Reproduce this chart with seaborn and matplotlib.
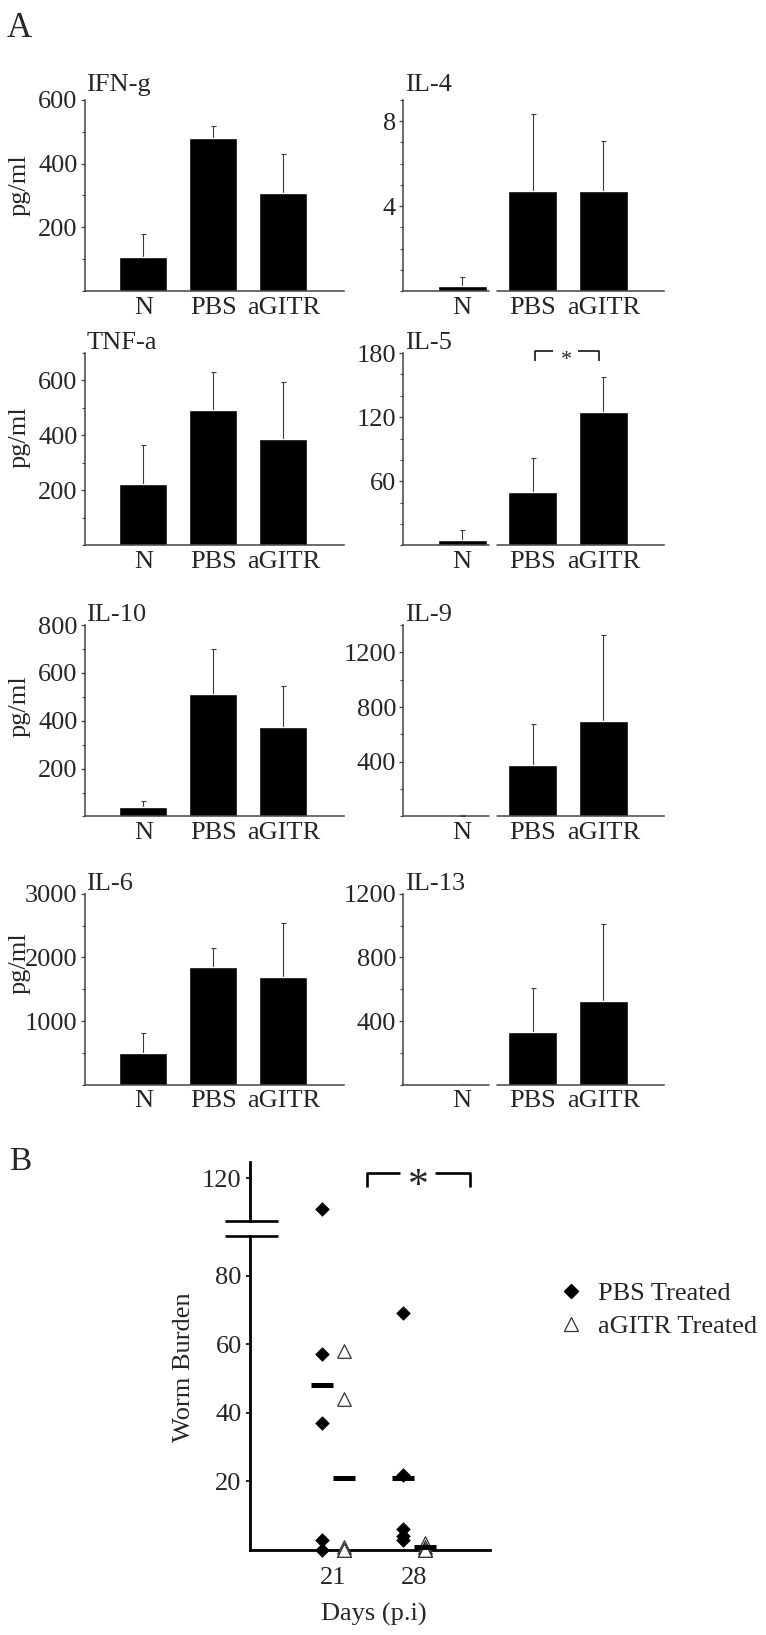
import numpy as np
import pandas as pd
import matplotlib
matplotlib.use('Agg')
import matplotlib.pyplot as plt
from matplotlib.lines import Line2D
from matplotlib.ticker import MultipleLocator
import seaborn as sns

# ---- panel A: cytokines ----
groups = ['N', 'PBS', 'aGITR']
cytokines = ['IFN-g', 'IL-4', 'TNF-a', 'IL-5', 'IL-10', 'IL-9', 'IL-6', 'IL-13']

ifng_mean = [106, 480, 307]
ifng_err = [72, 39, 122]
il4_mean = [0.25, 4.72, 4.72]
il4_err = [0.41, 3.63, 2.34]
tnfa_mean = [223, 492, 388]
tnfa_err = [141, 140, 208]
il5_mean = [5.4, 50.4, 124.6]
il5_err = [8.8, 31.6, 33.2]
il10_mean = [38, 512, 373]
il10_err = [27, 187, 172]
il9_mean = [5, 378, 698]
il9_err = [6, 301, 630]
il6_mean = [501, 1846, 1688]
il6_err = [310, 299, 851]
il13_mean = [3, 333, 526]
il13_err = [2, 278, 485]

y_top = [600, 9, 700, 180, 800, 1400, 3000, 1200]
y_labeled = [[200, 400, 600], [4, 8], [200, 400, 600], [60, 120, 180],
             [200, 400, 600, 800], [400, 800, 1200], [1000, 2000, 3000], [400, 800, 1200]]
y_minor = [100, 1, 100, 20, 100, 200, 500, 200]

# ---- panel B: worm burden ----
days = [21, 28]
pbs_day21 = [111, 57, 37, 3, 0]
pbs_day28 = [69, 22, 6, 4, 3]
agitr_day21 = [58, 44, 1, 0, 0]
agitr_day28 = [2, 1, 0, 0, 0]
pbs_group_mean = [48, 21]
agitr_group_mean = [21, 1]

means = [ifng_mean, il4_mean, tnfa_mean, il5_mean, il10_mean, il9_mean, il6_mean, il13_mean]
errs = [ifng_err, il4_err, tnfa_err, il5_err, il10_err, il9_err, il6_err, il13_err]

sns.set_style('ticks')
plt.rcParams['font.family'] = ['Liberation Serif', 'DejaVu Serif']
FS = 19

W, H = 766, 1635
fig = plt.figure(figsize=(W / 100, H / 100), dpi=100)


def rect(l, t, r, b):
    return [l / W, 1 - b / H, (r - l) / W, (b - t) / H]


def fig_line(xs, ys, lw):
    fig.add_artist(Line2D([x / W for x in xs], [1 - y / H for y in ys],
                          transform=fig.transFigure, color='black', lw=lw,
                          solid_capstyle='butt'))


cols = [(84.5, 343.5), (403, 664)]
rows = [(100, 291), (353, 545.5), (625, 816.5), (894, 1084.5)]
ylabel_y = [185, 437, 706, 963]

for i, name in enumerate(cytokines):
    r, c = divmod(i, 2)
    l, rr = cols[c]
    t, b = rows[r]
    ax = fig.add_axes(rect(l, t, rr, b))
    sns.barplot(x=groups, y=means[i], color='black', saturation=1, width=0.69,
                errorbar=None, ax=ax, zorder=2)
    # upper error only; the lower cap stays hidden behind the bar
    ax.errorbar(range(3), means[i], yerr=[np.zeros(3), errs[i]], fmt='none',
                ecolor='#3a3a3a', elinewidth=0.8, capsize=1.8, capthick=0.8, zorder=1)
    ax.set_xlim(-0.84, 2.86)
    ax.set_ylim(0, y_top[i])
    ax.set_yticks(y_labeled[i])
    ax.yaxis.set_minor_locator(MultipleLocator(y_minor[i]))
    ax.set_xlabel('')
    ax.set_ylabel('')
    sns.despine(ax=ax)
    for s in ['left', 'bottom']:
        ax.spines[s].set_color('#444444')
        ax.spines[s].set_linewidth(1.1)
    ax.tick_params(axis='y', which='major', length=3, width=0.9, pad=2,
                   labelsize=FS, color='#444444')
    ax.tick_params(axis='y', which='minor', length=2, width=0.8, color='#444444')
    ax.tick_params(axis='x', length=0, pad=4, labelsize=FS)
    if c == 1:
        # small break in the x axis between N and the treated groups
        ax.plot([0.38, 0.48], [0, 0], color='white', lw=2.5, clip_on=False,
                zorder=5, solid_capstyle='butt')
    off = 9 if r == 0 else 4
    fig.text((l + 2) / W, 1 - (t - off) / H, name, fontsize=FS, va='baseline')
    if c == 0:
        fig.text(20 / W, 1 - ylabel_y[r] / H, 'pg/ml', rotation=90, fontsize=FS,
                 ha='center', va='center')

# significance mark on IL-5
fig_line([535, 535, 553], [360.7, 351, 351], 1.1)
fig_line([578, 599, 599], [351, 351, 360.7], 1.1)
fig.text(566 / W, 1 - 364.5 / H, '*', fontsize=16, ha='center', va='baseline')

fig.text(7 / W, 1 - 12 / H, 'A', fontsize=25, va='top')
fig.text(9 / W, 1 - 1146 / H, 'B', fontsize=24, va='top')

# ---- panel B ----
offset = {'PBS Treated': -0.95, 'aGITR Treated': 0.95}
rows_b = []
for day, vals in zip(days, [pbs_day21, pbs_day28]):
    rows_b += [('PBS Treated', day, v) for v in vals]
for day, vals in zip(days, [agitr_day21, agitr_day28]):
    rows_b += [('aGITR Treated', day, v) for v in vals]
burden = pd.DataFrame(rows_b, columns=['group', 'day', 'burden'])
burden['xpos'] = burden['day'] + burden['group'].map(offset)

mean_df = pd.DataFrame({
    'group': ['PBS Treated'] * 2 + ['aGITR Treated'] * 2,
    'day': days * 2,
    'burden': pbs_group_mean + agitr_group_mean,
})
mean_df['xpos'] = mean_df['day'] + mean_df['group'].map(offset)

px_per_unit = 3.43
ax_lo = fig.add_axes(rect(250, 1236, 490, 1550))
ax_hi = fig.add_axes(rect(250, 1161.7, 490, 1220.7))
ax_lo.set_ylim(0, (1550 - 1236) / px_per_unit)
ax_hi.set_ylim(120 - (1220.7 - 1178.3) / px_per_unit, 120 + (1178.3 - 1161.7) / px_per_unit)
cut = 90

for ax, part in [(ax_lo, burden[burden.burden < cut]), (ax_hi, burden[burden.burden >= cut])]:
    pbs = part[part.group == 'PBS Treated']
    ag = part[part.group == 'aGITR Treated']
    if len(pbs):
        sns.scatterplot(data=pbs, x='xpos', y='burden', marker='D', s=48, color='black',
                        edgecolor='black', linewidth=0.5, ax=ax, clip_on=False,
                        legend=False, zorder=3)
    if len(ag):
        sns.scatterplot(data=ag, x='xpos', y='burden', marker='^', s=95, color='white',
                        edgecolor='#333333', linewidth=0.9, ax=ax, clip_on=False,
                        legend=False, zorder=3)
sns.scatterplot(data=mean_df, x='xpos', y='burden', marker='_', s=230, color='black',
                linewidth=3.6, ax=ax_lo, clip_on=False, legend=False, zorder=4)

for ax in (ax_lo, ax_hi):
    ax.set_xlim(13.8, 34.6)
    ax.set_xlabel('')
    ax.set_ylabel('')
    sns.despine(ax=ax)
    ax.spines['left'].set_linewidth(2)
    ax.spines['left'].set_color('black')
    ax.tick_params(axis='y', length=3, width=1.2, pad=3, labelsize=FS, color='black')

ax_lo.spines['bottom'].set_linewidth(2)
ax_lo.spines['bottom'].set_color('black')
ax_lo.set_yticks([20, 40, 60, 80])
ax_lo.set_xticks(days)
ax_lo.set_xticklabels([str(d) for d in days])
ax_lo.tick_params(axis='x', length=0, pad=12, labelsize=FS)

ax_hi.spines['bottom'].set_visible(False)
ax_hi.set_xticks([])
ax_hi.set_yticks([120])

# axis break marks
fig_line([225, 278], [1220.7, 1220.7], 1.9)
fig_line([225, 278], [1236, 1236], 1.9)

# significance bracket
fig_line([366.7, 366.7, 400], [1186.7, 1172.7, 1172.7], 1.9)
fig_line([435, 470, 470], [1172.7, 1172.7, 1186.7], 1.9)
fig.text(418 / W, 1 - 1197 / H, '*', fontsize=30, ha='center', va='baseline')

fig.text(374 / W, 1 - 1614 / H, 'Days (p.i)', fontsize=FS, ha='center', va='center')
fig.text(184 / W, 1 - 1367 / H, 'Worm Burden', fontsize=FS, rotation=90,
         ha='center', va='center')

handles = [Line2D([], [], marker='D', ls='', color='black', ms=7),
           Line2D([], [], marker='^', ls='', mfc='white', mec='#333333', mew=0.9, ms=9.5)]
fig.legend(handles, ['PBS Treated', 'aGITR Treated'], loc='center left',
           bbox_to_anchor=(558 / W, 1 - 1310 / H), frameon=False, fontsize=FS,
           handlelength=1.0, handletextpad=0.52, labelspacing=0.35, borderpad=0,
           borderaxespad=0)

fig.savefig('out.png', dpi=100)
